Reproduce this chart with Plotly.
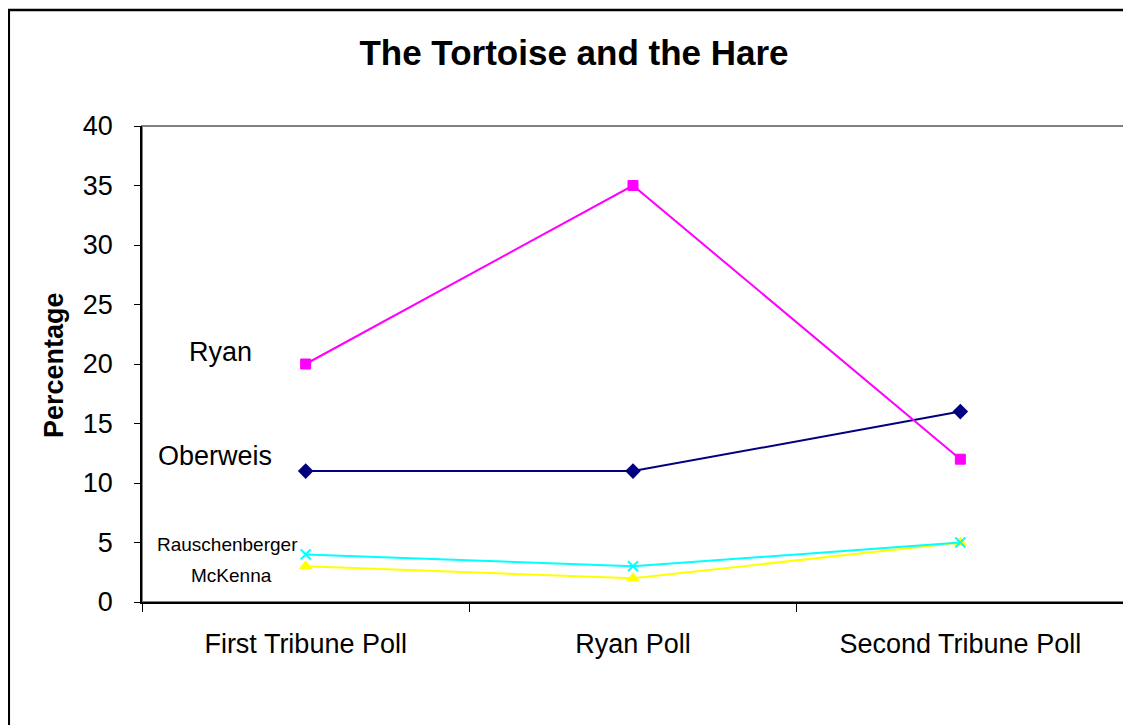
import plotly.graph_objects as go

categories = ["First Tribune Poll", "Ryan Poll", "Second Tribune Poll"]
ryan = [20, 35, 12]
oberweis = [11, 11, 16]
rauschenberger = [4, 3, 5]
mckenna = [3, 2, 5]
y_ticks = [0, 5, 10, 15, 20, 25, 30, 35, 40]

FONT = "Arial, Liberation Sans, sans-serif"

fig = go.Figure()
series = [
    ("McKenna", mckenna, "#FFFF00", "triangle-up", 12, 0),
    ("Rauschenberger", rauschenberger, "#00FFFF", "x-thin-open", 10, 2),
    ("Oberweis", oberweis, "#000080", "diamond", 12, 0),
    ("Ryan", ryan, "#FF00FF", "square", 10, 1),
]
for name, vals, color, sym, size, lw in series:
    fig.add_trace(go.Scatter(
        x=categories, y=vals, name=name, mode="lines+markers",
        line=dict(color=color, width=2),
        marker=dict(symbol=sym, size=size, color=color,
                    line=dict(color=color, width=lw)),
        showlegend=False, cliponaxis=False,
    ))

OFF = 8  # page body margin
W, H = 1131 - OFF, 725 - OFF
L, T = 142 - OFF, 126 - OFF
R = W - (1124 - OFF)
B = H - (602 - OFF)
pw, ph = W - L - R, H - T - B

def px_x(p):  # screen pixel -> paper
    return (p - OFF - L) / pw

def px_y(p):
    return (H - B - (p - OFF)) / ph

# outer frame
fig.add_shape(type="rect", xref="paper", yref="paper",
              x0=(0.8 - L) / pw, x1=(W + 20 - L) / pw,
              y0=(H - B - (H + 20)) / ph, y1=(H - B - 2) / ph,
              line=dict(color="black", width=2.5), layer="below")
# plot area grey border (top/right)
fig.add_shape(type="rect", xref="paper", yref="paper",
              x0=0, x1=1, y0=0, y1=1,
              line=dict(color="#808080", width=2), layer="below")

annots = [
    ("Ryan", 220, 352, 27, 0),
    ("Oberweis", 215, 456, 27, 0),
    ("Rauschenberger", 227, 544, 19, 0),
    ("McKenna", 231, 575, 19, 0),
    ("<b>Percentage</b>", 54, 365, 27, -90),
]
for text, x, y, s, ang in annots:
    fig.add_annotation(text=text, xref="paper", yref="paper",
                       x=px_x(x), y=px_y(y), showarrow=False,
                       xanchor="center", yanchor="middle", textangle=ang,
                       font=dict(family=FONT, size=s, color="black"))

fig.update_layout(
    width=W, height=H,
    margin=dict(l=L, r=R, t=T, b=B),
    paper_bgcolor="white", plot_bgcolor="white",
    title=dict(text="<b>The Tortoise and the Hare</b>",
               x=(574 - OFF) / W, xanchor="center",
               y=1 - (53 - OFF) / H, yanchor="middle",
               font=dict(family=FONT, size=35, color="black")),
    font=dict(family=FONT, color="black"),
)
fig.update_xaxes(
    type="category", range=[-0.5, 2.5], tickson="boundaries",
    ticks="outside", ticklen=8, tickcolor="black", tickwidth=1,
    showline=True, linecolor="black", linewidth=1.5,
    showgrid=False, zeroline=False, ticklabelstandoff=17,
    tickfont=dict(family=FONT, size=27, color="black"),
)
fig.update_yaxes(
    range=[0, 40], tickvals=y_ticks,
    ticks="outside", ticklen=6, tickcolor="black", tickwidth=1,
    showline=True, linecolor="black", linewidth=1.5,
    showgrid=False, zeroline=False, ticklabelstandoff=16,
    tickfont=dict(family=FONT, size=27, color="black"),
)

fig.write_html("out.html")
